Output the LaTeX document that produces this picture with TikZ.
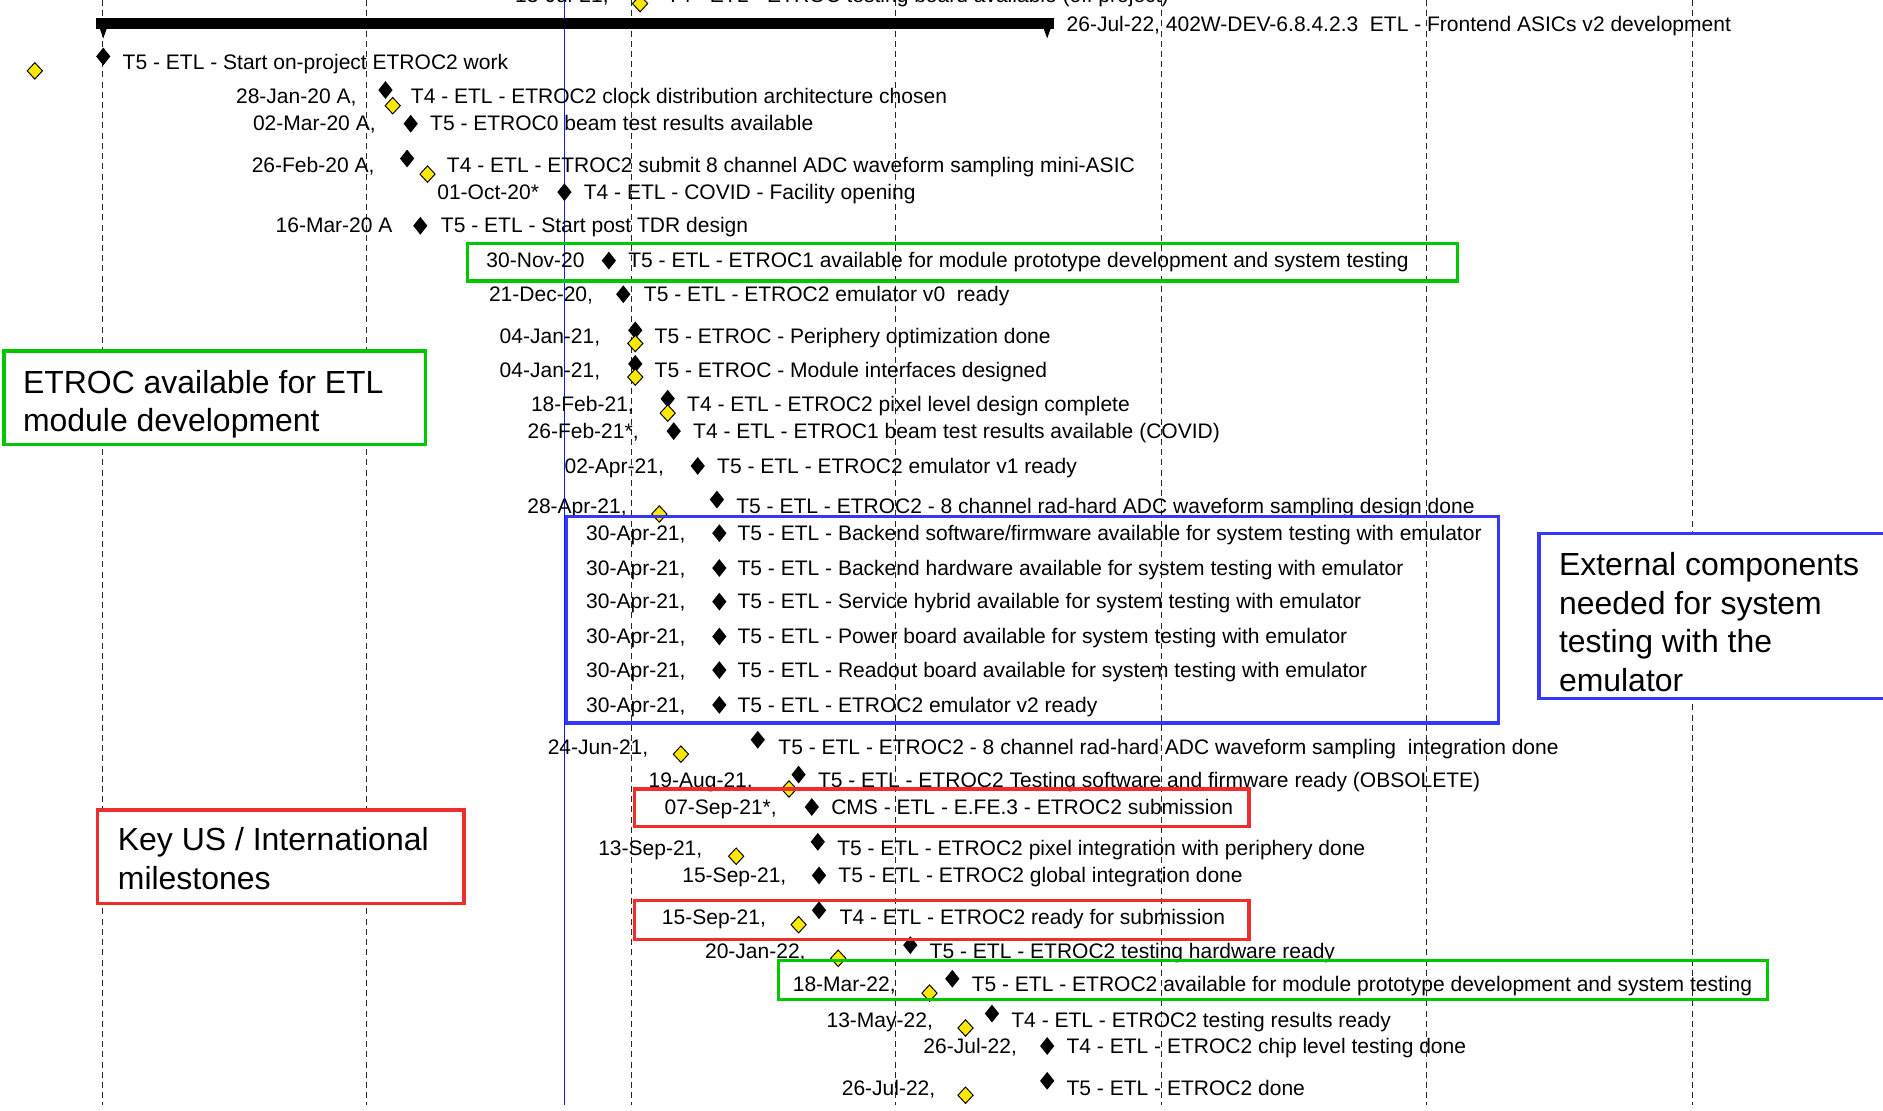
\documentclass[tikz,border=0pt]{standalone}
\usepackage{fontspec}
\setmainfont{Liberation Sans}
\usetikzlibrary{shapes.geometric}
\newcommand\chartfont{\fontsize{17.5}{20}\selectfont}
\newcommand\annofont{\fontsize{26.6}{32}\selectfont}
\definecolor{ylw}{RGB}{250,232,0}
\definecolor{gbox}{RGB}{0,200,0}
\definecolor{rbox}{RGB}{240,45,45}
\definecolor{bbox}{RGB}{55,55,250}
\definecolor{bline}{RGB}{20,20,255}
\newcommand\msrow[6]{\node[dt] (#1d) at (#3,#2+6) {#4};\node[ds] (#1t) at (#5,#2+6) {#6};}
\tikzset{
  gline/.style={draw=black!85, line width=0.9pt, dash pattern=on 5pt off 3.5pt},
  dt/.style={font=\chartfont, inner sep=0pt, anchor=base east},
  ds/.style={font=\chartfont, inner sep=0pt, anchor=base west},
  bd/.style={shape=diamond, fill=black, draw=none, minimum width=12pt, minimum height=15pt, inner sep=0pt},
  yd/.style={shape=diamond, fill=ylw, draw=black, line width=0.8pt, minimum width=13pt, minimum height=14pt, inner sep=0pt},
  rowbox/.style={draw, line width=2.6pt, inner sep=0pt},
  annobox/.style={draw, fill=white, line width=2.8pt, inner sep=0pt, anchor=north west},
  annotext/.style={font=\annofont, inner sep=0pt, anchor=base west},
}
\begin{document}
\begin{tikzpicture}[x=1pt,y=-1pt]
\clip (0,0) rectangle (1568,925);
\useasboundingbox (0,0) rectangle (1568,925);
% grid
\foreach \gx in {85,305,526,746,967,1188,1409}{
  \draw[gline] (\gx,0) -- (\gx,920);
}
\draw[bline, line width=1.1pt] (470,0) -- (470,920);
% summary bar
\fill (80,15) rectangle (878,24);
\fill (80,15) -- (92,15) -- (86,32) -- cycle;
\fill (866,15) -- (878,15) -- (872,32) -- cycle;
\node[ds] (sumt) at (888,26) {26-Jul-22, 402W-DEV-6.8.4.2.3\ \ ETL - Frontend ASICs v2 development};
% cut top row
\msrow{r0}{-4}{507}{13-Jul-21,}{555}{T4 - ETL - ETROC testing board available (off project)}
\node[yd] (r0y) at (533,3) {};
% annotation boxes
\node[annobox, draw=gbox, minimum width=351pt, minimum height=78pt] (ga) at (2,291) {};
\node[annotext] (ga1) at (19,327.5) {ETROC available for ETL};
\node[annotext] (ga2) at (19,359.5) {module development};
\node[annobox, draw=rbox, minimum width=305pt, minimum height=78pt] (ra) at (80,673) {};
\node[annotext] (ra1) at (98,708.5) {Key US / International};
\node[annotext] (ra2) at (98,740.5) {milestones};
\node[annobox, draw=bbox, minimum width=320pt, minimum height=137pt] (ba) at (1280,443) {};
\node[annotext] (ba1) at (1298,479.5) {External components};
\node[annotext] (ba2) at (1298,511.5) {needed for system};
\node[annotext] (ba3) at (1298,543.5) {testing with the};
\node[annotext] (ba4) at (1298,575.5) {emulator};
% rows
\node[ds] (r1t) at (102,58) {T5 - ETL - Start on-project ETROC2 work};
\node[bd] (r1b) at (86,47) {};
\node[yd] (r1y) at (29,59) {};
\msrow{r2}{80}{297}{28-Jan-20 A,}{342}{T4 - ETL - ETROC2 clock distribution architecture chosen}
\node[bd] (r2b) at (321,75) {};\node[yd] (r2y) at (327,88) {};
\msrow{r3}{103}{313}{02-Mar-20 A,}{358}{T5 - ETROC0 beam test results available}
\node[bd] (r3b) at (342,103) {};
\msrow{r4}{138}{312}{26-Feb-20 A,}{372}{T4 - ETL - ETROC2 submit 8 channel ADC waveform sampling mini-ASIC}
\node[bd] (r4b) at (339,132) {};\node[yd] (r4y) at (356,145) {};
\msrow{r5}{160}{449}{01-Oct-20*}{486}{T4 - ETL - COVID - Facility opening}
\node[bd] (r5b) at (470,160) {};
\msrow{r6}{188}{327}{16-Mar-20 A}{367}{T5 - ETL - Start post TDR design}
\node[bd] (r6b) at (350,188) {};
\msrow{r7}{217}{487}{30-Nov-20}{523}{T5 - ETL - ETROC1 available for module prototype development and system testing}
\node[bd] (r7b) at (507,217) {};
\msrow{r8}{245}{494}{21-Dec-20,}{536}{T5 - ETL - ETROC2 emulator v0\ \ ready}
\node[bd] (r8b) at (519,245) {};
\msrow{r9}{280}{500}{04-Jan-21,}{545}{T5 - ETROC - Periphery optimization done}
\node[bd] (r9b) at (529,275) {};\node[yd] (r9y) at (529,286) {};
\msrow{r10}{308}{500}{04-Jan-21,}{545}{T5 - ETROC - Module interfaces designed}
\node[bd] (r10b) at (529,303) {};\node[yd] (r10y) at (529,314) {};
\msrow{r11}{337}{528}{18-Feb-21,}{572}{T4 - ETL - ETROC2 pixel level design complete}
\node[bd] (r11b) at (556,332) {};\node[yd] (r11y) at (556,344) {};
\msrow{r12}{359}{532}{26-Feb-21*,}{577}{T4 - ETL - ETROC1 beam test results available (COVID)}
\node[bd] (r12b) at (561,359) {};
\msrow{r13}{388}{553}{02-Apr-21,}{597}{T5 - ETL - ETROC2 emulator v1 ready}
\node[bd] (r13b) at (581,388) {};
\msrow{r14}{422}{522}{28-Apr-21,}{613}{T5 - ETL - ETROC2 - 8 channel rad-hard ADC waveform sampling design done}
\node[bd] (r14b) at (597,416) {};\node[yd] (r14y) at (549,428) {};
\msrow{r15}{444}{571}{30-Apr-21,}{614}{T5 - ETL - Backend software/firmware available for system testing with emulator}
\node[bd] (r15b) at (599,444) {};
\msrow{r16}{473}{571}{30-Apr-21,}{614}{T5 - ETL - Backend hardware available for system testing with emulator}
\node[bd] (r16b) at (599,473) {};
\msrow{r17}{501}{571}{30-Apr-21,}{614}{T5 - ETL - Service hybrid available for system testing with emulator}
\node[bd] (r17b) at (599,501) {};
\msrow{r18}{530}{571}{30-Apr-21,}{614}{T5 - ETL - Power board available for system testing with emulator}
\node[bd] (r18b) at (599,530) {};
\msrow{r19}{558}{571}{30-Apr-21,}{614}{T5 - ETL - Readout board available for system testing with emulator}
\node[bd] (r19b) at (599,558) {};
\msrow{r20}{587}{571}{30-Apr-21,}{614}{T5 - ETL - ETROC2 emulator v2 ready}
\node[bd] (r20b) at (599,587) {};
\msrow{r21}{622}{540}{24-Jun-21,}{648}{T5 - ETL - ETROC2 - 8 channel rad-hard ADC waveform sampling\ \ integration done}
\node[bd] (r21b) at (631,616) {};\node[yd] (r21y) at (567,628) {};
\msrow{r22}{650}{627}{19-Aug-21,}{681}{T5 - ETL - ETROC2 Testing software and firmware ready (OBSOLETE)}
\node[bd] (r22b) at (665,645) {};\node[yd] (r22y) at (657,657) {};
\msrow{r23}{672}{647}{07-Sep-21*,}{692}{CMS - ETL - E.FE.3 - ETROC2 submission}
\node[bd] (r23b) at (676,672) {};
\msrow{r24}{706}{585}{13-Sep-21,}{697}{T5 - ETL - ETROC2 pixel integration with periphery done}
\node[bd] (r24b) at (681,701) {};\node[yd] (r24y) at (613,713) {};
\msrow{r25}{729}{655}{15-Sep-21,}{698}{T5 - ETL - ETROC2 global integration done}
\node[bd] (r25b) at (682,729) {};
\msrow{r26}{764}{638}{15-Sep-21,}{699}{T4 - ETL - ETROC2 ready for submission}
\node[bd] (r26b) at (682,758) {};\node[yd] (r26y) at (665,770) {};
\msrow{r27}{792}{671}{20-Jan-22,}{774}{T5 - ETL - ETROC2 testing hardware ready}
\node[bd] (r27b) at (758,787) {};\node[yd] (r27y) at (698,798) {};
\msrow{r28}{820}{746}{18-Mar-22,}{809}{T5 - ETL - ETROC2 available for module prototype development and system testing}
\node[bd] (r28b) at (793,815) {};\node[yd] (r28y) at (774,827) {};
\msrow{r29}{850}{777}{13-May-22,}{842}{T4 - ETL - ETROC2 testing results ready}
\node[bd] (r29b) at (826,844) {};\node[yd] (r29y) at (804,856) {};
\msrow{r30}{871}{847}{26-Jul-22,}{888}{T4 - ETL - ETROC2 chip level testing done}
\node[bd] (r30b) at (872,871) {};
\msrow{r31}{906}{779}{26-Jul-22,}{888}{T5 - ETL - ETROC2 done}
\node[bd] (r31b) at (872,900) {};\node[yd] (r31y) at (804,912) {};
% row highlight boxes
\draw[rowbox, draw=gbox] (389,203) rectangle (1214,234);
\draw[rowbox, draw=bbox] (472,430) rectangle (1248,602);
\draw[rowbox, draw=rbox] (528,657) rectangle (1040,688);
\draw[rowbox, draw=rbox] (528,750) rectangle (1040,782);
\draw[rowbox, draw=gbox] (648,800) rectangle (1472,832);
\end{tikzpicture}
\end{document}
